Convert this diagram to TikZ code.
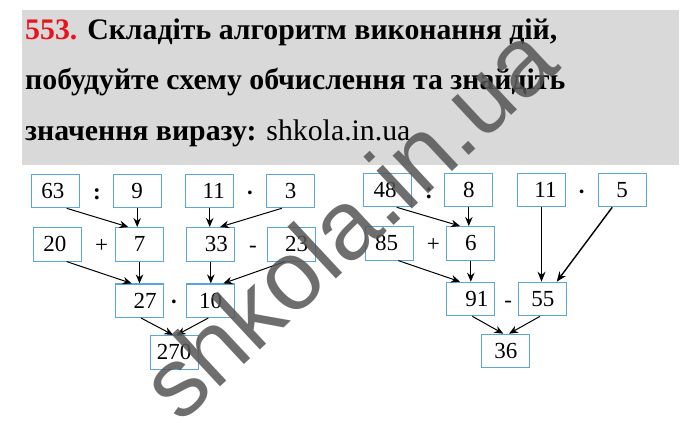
\documentclass[tikz,border=0pt]{standalone}
\usepackage{fontspec}
\setmainfont{Liberation Serif}
\newfontfamily\wmfont{Liberation Sans}
\usetikzlibrary{arrows.meta}
\definecolor{boxblue}{HTML}{5AA5DC}
\definecolor{hdrgray}{HTML}{D9D9D9}
\definecolor{numred}{HTML}{E8141C}
\definecolor{wmgray}{HTML}{555555}
\tikzset{
  numbox/.style={draw=boxblue, line width=1.1pt, minimum width=48pt, minimum height=33.5pt, inner sep=0pt, font=\fontsize{23}{23}\selectfont},
  opsign/.style={inner sep=0pt, anchor=base, font=\fontsize{23}{23}\selectfont},
  hdr/.style={anchor=base west, inner sep=0pt, font=\fontsize{29.8}{30}\selectfont\bfseries},
  conn/.style={line width=1pt, -{Stealth[length=9pt,width=7.5pt]}},
  connthick/.style={line width=1.4pt, -{Stealth[length=10pt,width=8pt]}}
}
\begin{document}
\begin{tikzpicture}[x=1pt,y=-1pt]
\useasboundingbox (0,0) rectangle (700,445);
\fill[white] (0,0) rectangle (700,445);
% header
\fill[hdrgray] (21.7,10) rectangle (679.3,165);
\node[hdr] (h1) at (25,39) {\textcolor{numred}{553.} Складіть алгоритм виконання дій,};
\node[hdr] (h2) at (25,89.5) {побудуйте схему обчислення та знайдіть};
\node[hdr] (h3) at (25,140) {значення виразу: \mdseries shkola.in.ua};
% left tree
\node[numbox] (a63) at (55.9,191) {63\hspace*{6pt}};
\node[opsign] (o1) at (97,199.5) {\textbf{:}};
\node[numbox] (a9) at (137.2,191) {9};
\node[numbox] (a11) at (209.7,191) {\hspace*{8pt}11};
\node[opsign] (o2) at (250,200.5) {\textbf{·}};
\node[numbox] (a3) at (290.7,191) {3};
\node[numbox] (b20) at (57.8,244.3) {20\hspace*{6pt}};
\node[opsign] (o3) at (101.7,252.3) {+};
\node[numbox] (b7) at (139.5,244.3) {7};
\node[numbox] (b33) at (210.8,244.3) {\hspace*{11pt}33};
\node[opsign] (o4) at (253,252.3) {-};
\node[numbox] (b23) at (291.7,244.3) {\hspace*{10pt}23};
\node[numbox] (c27) at (139.5,300.7) {\hspace*{11pt}27};
\node[opsign] (o5) at (174,309) {\textbf{·}};
\node[numbox] (c10) at (210.5,300.7) {10};
\node[numbox] (d270) at (174.2,352.3) {270};
% right tree
\node[numbox] (e48) at (387.5,190) {48\hspace*{5pt}};
\node[opsign] (o6) at (429,198.5) {\textbf{:}};
\node[numbox] (e8) at (468.8,190) {8};
\node[numbox] (e11) at (541.5,190) {\hspace*{8pt}11};
\node[opsign] (o7) at (581.7,199.5) {\textbf{·}};
\node[numbox] (e5) at (622.2,190) {5};
\node[numbox] (f85) at (389.7,243.3) {85\hspace*{6pt}};
\node[opsign] (o8) at (433.3,251.3) {+};
\node[numbox] (f6) at (470.8,243.3) {6};
\node[numbox] (g91) at (470.8,299) {\hspace*{12pt}91};
\node[opsign] (o9) at (508.3,307) {-};
\node[numbox] (g55) at (542.8,299) {55};
\node[numbox] (h36) at (505.8,351) {36};
% left connectors
\draw[conn] ([xshift=10.8pt]a63.south) -- ([xshift=-11.2pt]b7.north);
\draw[conn] (a9.south) -- (a9.south |- b7.north);
\draw[conn] (a11.south) -- (a11.south |- b33.north);
\draw[conn] ([xshift=-9pt]a3.south) -- ([xshift=9.2pt]b33.north);
\draw[conn] ([xshift=8.9pt]b20.south) -- ([xshift=-7.8pt]c27.north);
\draw[conn] (b7.south) -- (b7.south |- c27.north);
\draw[conn] (b33.south) -- (b33.south |- c10.north);
\draw[conn] ([xshift=-6.7pt]b23.south) -- ([xshift=12.8pt]c10.north);
\draw[conn] ([xshift=1.5pt]c27.south) -- ([xshift=-1pt]d270.north);
\draw[conn] ([xshift=-2.2pt]c10.south) -- ([xshift=2.5pt]d270.north);
% right connectors
\draw[conn] ([xshift=9.2pt]e48.south) -- ([xshift=-10.8pt]f6.north);
\draw[conn] (e8.south) -- (e8.south |- f6.north);
\draw[connthick] (e11.south) -- (e11.south |- g55.north);
\draw[connthick] ([xshift=-10pt]e5.south) -- ([xshift=13.9pt]g55.north);
\draw[conn] ([xshift=8.6pt]f85.south) -- ([xshift=-10.8pt]g91.north);
\draw[conn] (f6.south) -- (f6.south |- g91.north);
\draw[conn] ([xshift=1.5pt]g91.south) -- ([xshift=-2.5pt]h36.north);
\draw[conn] ([xshift=-2.8pt]g55.south) -- ([xshift=3.2pt]h36.north);
% watermark
\node[anchor=base west, inner sep=0pt, rotate=43, text=wmgray, text opacity=0.85, font=\fontsize{98}{98}\wmfont] (wm) at (180,425) {shkola.in.ua};
\end{tikzpicture}
\end{document}
